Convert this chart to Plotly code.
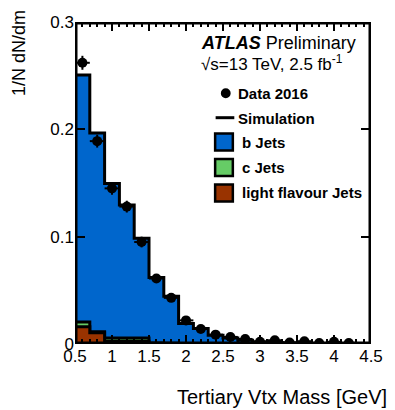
import numpy as np
import plotly.graph_objects as go

# Binning: 20 bins of 0.2 GeV between 0.5 and 4.5 GeV
bin_edges = [0.5 + 0.2 * i for i in range(21)]

# Simulated normalised yields per flavour (stacked)
b_jets = [0.230, 0.185, 0.144, 0.124, 0.093, 0.0611, 0.0439, 0.0186, 0.0142, 0.0080,
          0.0056, 0.0034, 0.0022, 0.0015, 0.0010, 0.0007, 0.0005, 0.0003, 0.0002, 0.0001]
c_jets = [0.0046, 0.0010, 0.0030, 0.0030, 0.0030, 0.0006, 0.0005, 0.0004, 0.0003, 0.0002,
          0.0001, 0.0001, 0.0, 0.0, 0.0, 0.0, 0.0, 0.0, 0.0, 0.0]
light_jets = [0.0160, 0.0105, 0.0025, 0.0025, 0.0025, 0.0003, 0.0002, 0.0001, 0.0, 0.0,
              0.0, 0.0, 0.0, 0.0, 0.0, 0.0, 0.0, 0.0, 0.0, 0.0]

# Data 2016 (bin centres 0.6 ... 4.2 GeV)
data_x = [0.6, 0.8, 1.0, 1.2, 1.4, 1.6, 1.8, 2.0, 2.2, 2.4,
          2.6, 2.8, 3.0, 3.2, 3.4, 3.6, 3.8, 4.0, 4.2]
data_y = [0.262, 0.189, 0.145, 0.128, 0.095, 0.061, 0.043, 0.022, 0.014, 0.0087,
          0.0066, 0.0047, 0.0020, 0.0035, 0.0014, 0.0026, 0.0010, 0.0020, 0.0010]
data_err = [0.0065, 0.0060, 0.0060, 0.0055, 0.0050, 0.0040, 0.0035, 0.0030, 0.0025, 0.0020,
            0.0020, 0.0015, 0.0012, 0.0012, 0.0010, 0.0010, 0.0008, 0.0008, 0.0006]

x_ticks = [0.5, 1, 1.5, 2, 2.5, 3, 3.5, 4, 4.5]
y_ticks = [0, 0.1, 0.2, 0.3]

BLUE = "#0066cc"
GREEN = "#66cc66"
BROWN = "#993300"
FONT = "Liberation Sans, Arial, Helvetica, sans-serif"

light_arr = np.array(light_jets)
c_stack = light_arr + np.array(c_jets)
total = c_stack + np.array(b_jets)


def step(values):
    return list(values) + [values[-1]]


fig = go.Figure()
for vals, col in [(total, BLUE), (c_stack, GREEN), (light_arr, BROWN)]:
    fig.add_trace(go.Scatter(
        x=bin_edges, y=step(vals), mode="lines", line_shape="hv",
        line=dict(color="black", width=3), fill="tozeroy", fillcolor=col,
        showlegend=False, hoverinfo="skip"))

fig.add_trace(go.Scatter(
    x=data_x, y=data_y, mode="markers",
    marker=dict(color="black", size=10),
    error_x=dict(type="constant", value=0.1, color="black", thickness=2, width=0),
    error_y=dict(type="data", array=data_err, color="black", thickness=2, width=0),
    showlegend=False))

W, H = 395, 410
L, R, T, B = 75, 19, 22, 66
PW, PH = W - L - R, H - T - B


def px(x):
    return (x - L) / PW


def py(y):
    return 1 - (y - T) / PH


shapes = [
    # plot frame
    dict(type="rect", xref="x", yref="y", x0=0.5, x1=4.5, y0=0, y1=0.3,
         line=dict(color="black", width=5), layer="above"),
    # legend symbols
    dict(type="circle", xref="paper", yref="paper", x0=px(223.3), x1=px(233.3),
         y0=py(98.3), y1=py(88.3), fillcolor="black", line=dict(width=0)),
    dict(type="line", xref="paper", yref="paper", x0=px(218), x1=px(237),
         y0=py(117.7), y1=py(117.7), line=dict(color="black", width=3)),
]
for yc, col in [(142, BLUE), (167.5, GREEN), (193, BROWN)]:
    shapes.append(dict(type="rect", xref="paper", yref="paper",
                       x0=px(217.5), x1=px(235.5), y0=py(yc + 8.5), y1=py(yc - 8.5),
                       fillcolor=col, line=dict(color="black", width=2.5)))

annotations = [
    dict(text="<b><i>ATLAS</i></b> Preliminary", xref="paper", yref="paper",
         x=px(201), y=py(43), xanchor="left", yanchor="middle", showarrow=False,
         font=dict(size=18, family=FONT, color="black")),
    dict(text="√s=13 TeV, 2.5 fb<sup>-1</sup>", xref="paper", yref="paper",
         x=px(201), y=py(63), xanchor="left", yanchor="middle", showarrow=False,
         font=dict(size=17, family=FONT, color="black")),
    dict(text="1/N dN/dm", xref="paper", yref="paper", x=px(18), y=py(8),
         xanchor="center", yanchor="top", textangle=-90, showarrow=False,
         font=dict(size=18, family=FONT, color="black")),
    dict(text="Tertiary Vtx Mass [GeV]", xref="paper", yref="paper", x=px(394), y=py(397),
         xanchor="right", yanchor="middle", showarrow=False,
         font=dict(size=20, family=FONT, color="black")),
]
for label, xl, yc in [("Data 2016", 239, 93.5), ("Simulation", 239, 118),
                      ("b Jets", 243, 142), ("c Jets", 243, 167.5),
                      ("light flavour Jets", 243, 193)]:
    annotations.append(dict(text=f"<b>{label}</b>", xref="paper", yref="paper",
                            x=px(xl), y=py(yc), xanchor="left", yanchor="middle",
                            showarrow=False, font=dict(size=15, family=FONT, color="black")))

axis_common = dict(showgrid=False, zeroline=False, showline=False, ticks="inside",
                   tickcolor="black", tickwidth=2, mirror="allticks",
                   tickfont=dict(size=17, family=FONT, color="black"))

fig.update_layout(
    width=W, height=H, margin=dict(l=L, r=R, t=T, b=B),
    paper_bgcolor="white", plot_bgcolor="white",
    xaxis=dict(range=[0.5, 4.5], tickvals=x_ticks, ticktext=[f"{v:g}" for v in x_ticks],
               ticklen=9, minor=dict(dtick=0.1, tick0=0.5, ticks="inside", ticklen=5,
                                     tickwidth=1.5, tickcolor="black", showgrid=False),
               **axis_common),
    yaxis=dict(range=[0, 0.3], tickvals=y_ticks, ticktext=[f"{v:g}" for v in y_ticks],
               ticklen=10, **axis_common),
    shapes=shapes, annotations=annotations,
)

fig.write_html("out.html")
